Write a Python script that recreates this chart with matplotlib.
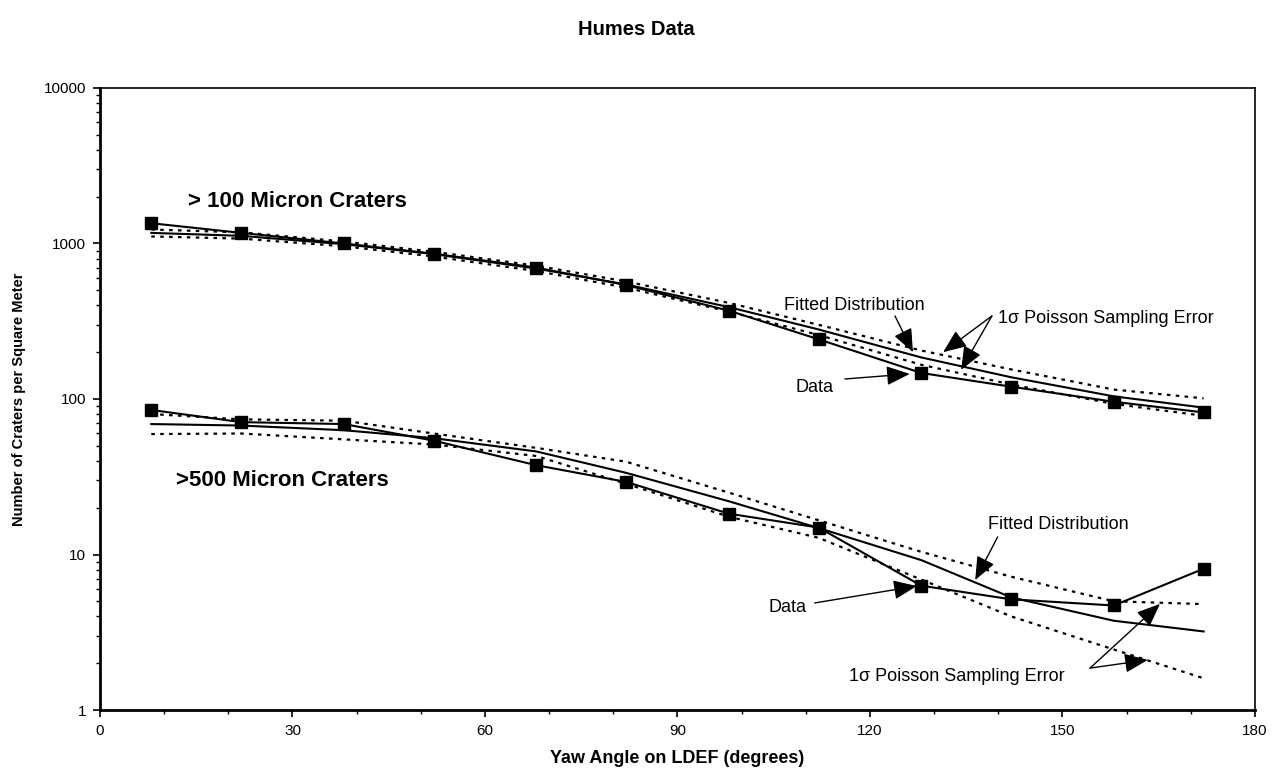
import matplotlib
matplotlib.use('Agg')
import matplotlib.pyplot as plt
from matplotlib import ticker

plt.rcParams['font.family'] = ['Liberation Sans', 'DejaVu Sans']

# yaw angle bins (degrees)
yaw = [8, 22, 38, 52, 68, 82, 98, 112, 128, 142, 158, 172]

# > 100 micron craters
data_100 = [1350, 1170, 1000, 860, 700, 540, 370, 242, 147, 120, 96, 82]
fit_100 = [1170, 1120, 990, 855, 690, 545, 390, 280, 185, 138, 104, 88]
hi_100 = [1230, 1180, 1030, 885, 720, 570, 415, 300, 205, 155, 115, 101]
lo_100 = [1110, 1075, 960, 825, 665, 520, 365, 258, 166, 124, 93, 78]

# > 500 micron craters
data_500 = [85, 71, 69, 54, 37.5, 29.3, 18.3, 14.9, 6.3, 5.15, 4.7, 8.1]
fit_500 = [69, 67.5, 63, 56, 46, 33.5, 22, 14.8, 9.2, 5.3, 3.75, 3.2]
hi_500 = [80, 74, 72.5, 60, 48.5, 39.5, 25, 16.6, 10.4, 7.2, 5.0, 4.8]
lo_500 = [59.5, 60, 55, 51, 43, 28.5, 17.5, 12.8, 6.9, 4.0, 2.45, 1.6]

fig = plt.figure(figsize=(12.72, 7.78), dpi=100)
ax = fig.add_axes([0.0786, 0.0874, 0.908, 0.7995])

dots = (0, (1.6, 2.4))
for d, f, hi, lo in [(data_100, fit_100, hi_100, lo_100),
                     (data_500, fit_500, hi_500, lo_500)]:
    ax.plot(yaw, hi, color='black', lw=1.6, ls=dots)
    ax.plot(yaw, lo, color='black', lw=1.6, ls=dots)
    ax.plot(yaw, f, color='black', lw=1.5)
    ax.plot(yaw, d, color='black', lw=1.5, marker='s', ms=8)

ax.set_yscale('log')
ax.set_xlim(0, 180)
ax.set_ylim(1, 10000)
ax.xaxis.set_major_locator(ticker.MultipleLocator(30))
ax.xaxis.set_minor_locator(ticker.MultipleLocator(10))
ax.yaxis.set_major_formatter(ticker.FuncFormatter(lambda v, _: f'{v:g}'))
ax.yaxis.set_minor_locator(ticker.LogLocator(base=10, subs=range(2, 10)))
ax.yaxis.set_minor_formatter(ticker.NullFormatter())
ax.tick_params(which='major', direction='out', length=5, width=1.2, labelsize=11, pad=5)
ax.tick_params(which='minor', direction='out', length=3, width=1.0)
ax.tick_params(axis='x', which='both', top=False)
ax.tick_params(axis='y', which='both', right=False)
for side in ['left', 'bottom']:
    ax.spines[side].set_linewidth(2.0)
for side in ['top', 'right']:
    ax.spines[side].set_linewidth(1.2)

ax.set_xlabel('Yaw Angle on LDEF (degrees)', fontsize=13, fontweight='bold', labelpad=9)
ax.set_ylabel('Number of Craters per Square Meter', fontsize=10.5, fontweight='bold')
ax.yaxis.set_label_coords(-0.064, 0.5)
fig.text(0.5, 0.962, 'Humes Data', ha='center', va='center', fontsize=14.5, fontweight='bold')

ax.text(13.7, 1857, '> 100 Micron Craters', fontsize=16, fontweight='bold', va='center')
ax.text(11.8, 29.8, '>500 Micron Craters', fontsize=16, fontweight='bold', va='center')

arrow = dict(arrowstyle='-|>,head_length=0.8,head_width=0.33', color='black',
             lw=1.0, mutation_scale=18, shrinkA=0, shrinkB=0)
note = dict(fontsize=13)

# upper group notes
ax.text(117.5, 402, 'Fitted Distribution', ha='center', va='center', **note)
ax.annotate('', xy=(126.7, 200), xytext=(123.9, 342), arrowprops=arrow)
ax.text(139.9, 327, '1\u03c3 Poisson Sampling Error', ha='left', va='center', **note)
ax.annotate('', xy=(131.4, 200), xytext=(139.0, 342), arrowprops=arrow)
ax.annotate('', xy=(134.2, 154), xytext=(139.0, 342), arrowprops=arrow)
ax.text(111.4, 119.4, 'Data', ha='center', va='center', **note)
ax.annotate('', xy=(126.2, 145), xytext=(116.1, 134.5), arrowprops=arrow)

# lower group notes
ax.text(149.3, 15.7, 'Fitted Distribution', ha='center', va='center', **note)
ax.annotate('', xy=(136.4, 6.85), xytext=(139.9, 12.97), arrowprops=arrow)
ax.text(107.1, 4.53, 'Data', ha='center', va='center', **note)
ax.annotate('', xy=(127.3, 6.27), xytext=(111.4, 4.88), arrowprops=arrow)
ax.text(133.6, 1.65, '1\u03c3 Poisson Sampling Error', ha='center', va='center', **note)
ax.annotate('', xy=(165.2, 4.81), xytext=(154.3, 1.86), arrowprops=arrow)
ax.annotate('', xy=(163.3, 2.10), xytext=(154.3, 1.86), arrowprops=arrow)

fig.savefig('out.png', dpi=100)
